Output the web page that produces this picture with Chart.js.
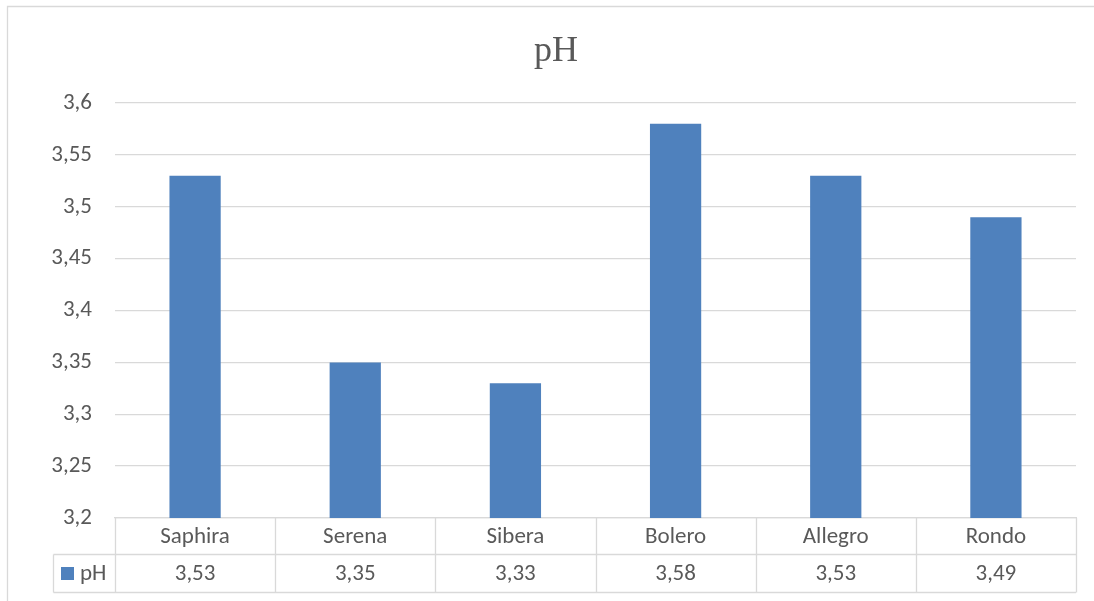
<!DOCTYPE html>
<html>
<head>
<meta charset="utf-8">
<script src="https://cdn.jsdelivr.net/npm/chart.js@4.4.1/dist/chart.umd.min.js"></script>
<style>
  html, body { margin: 0; padding: 0; background: #fff; }
  #wrap { width: 1094px; height: 601px; position: relative; }
</style>
</head>
<body>
<div id="wrap"><canvas id="c"></canvas></div>
<script>
const categories = ['Saphira', 'Serena', 'Sibera', 'Bolero', 'Allegro', 'Rondo'];
const seriesName = 'pH';
const chartTitle = 'pH';
const phValues = [3.53, 3.35, 3.33, 3.58, 3.53, 3.49];
const yMin = 3.2, yMax = 3.6, yStep = 0.05;

const TEXT = '#595959';
const LINE = '#d9d9d9';
const BAR = '#4F81BD';
const FONT = 'Carlito, Lato, "Liberation Sans", sans-serif';
const FS = 23;

function fmt(v) {
  return parseFloat(Number(v).toFixed(2)).toString().replace('.', ',');
}

const tablePlugin = {
  id: 'dataTable',
  afterDraw(chart) {
    const ctx = chart.ctx;
    const x = chart.scales.x;
    const area = chart.chartArea;
    const n = categories.length;
    const colW = (area.right - area.left) / n;
    const headTop = area.bottom;
    const rowTop = 554.5;
    const rowBottom = 592.5;
    const legendLeft = 53.5;
    ctx.save();
    // title
    ctx.fillStyle = TEXT;
    ctx.font = '36px "Liberation Serif", "Times New Roman", serif';
    ctx.textAlign = 'center';
    ctx.textBaseline = 'alphabetic';
    ctx.fillText(chartTitle, 556, 61);
    // outer chart border (left and top)
    ctx.strokeStyle = LINE;
    ctx.lineWidth = 1.3;
    ctx.beginPath();
    ctx.moveTo(7.5, 601);
    ctx.lineTo(7.5, 6.5);
    ctx.lineTo(1094, 6.5);
    ctx.stroke();
    // table lines
    ctx.beginPath();
    for (let i = 0; i <= n; i++) {
      const px = Math.round(x.getPixelForValue(i) - colW / 2) + 0.5;
      ctx.moveTo(px, headTop);
      ctx.lineTo(px, rowBottom);
    }
    ctx.moveTo(legendLeft, rowTop);
    ctx.lineTo(area.right, rowTop);
    ctx.moveTo(legendLeft, rowBottom);
    ctx.lineTo(area.right, rowBottom);
    ctx.moveTo(legendLeft, rowTop);
    ctx.lineTo(legendLeft, rowBottom);
    ctx.stroke();
    // legend key
    ctx.fillStyle = BAR;
    ctx.fillRect(61, 567, 13, 13);
    ctx.fillStyle = TEXT;
    ctx.font = FS + 'px ' + FONT;
    ctx.textBaseline = 'middle';
    ctx.textAlign = 'left';
    ctx.fillText(seriesName, 80, 574);
    // values
    ctx.textAlign = 'center';
    for (let i = 0; i < n; i++) {
      ctx.fillText(fmt(phValues[i]), x.getPixelForValue(i), 574);
    }
    ctx.restore();
  }
};

new Chart(document.getElementById('c'), {
  type: 'bar',
  data: {
    labels: categories,
    datasets: [{
      label: seriesName,
      data: phValues,
      backgroundColor: BAR,
      borderWidth: 0,
      categoryPercentage: 1.0,
      barPercentage: 0.32
    }]
  },
  options: {
    responsive: true,
    maintainAspectRatio: false,
    animation: false,
    devicePixelRatio: 1,
    layout: { padding: { left: 0, right: 18, top: 103, bottom: 0 } },
    plugins: {
      legend: { display: false },
      tooltip: { enabled: false },
      title: { display: false }
    },
    scales: {
      x: {
        grid: { display: false, drawTicks: false },
        border: { display: true, color: LINE, width: 1.3 },
        ticks: { color: TEXT, font: { family: FONT, size: FS }, padding: 5, maxRotation: 0 },
        afterFit(scale) { scale.height = 83; }
      },
      y: {
        min: yMin,
        max: yMax,
        grid: { color: LINE, lineWidth: 1.3, drawTicks: false },
        border: { display: false },
        ticks: {
          stepSize: yStep,
          color: TEXT,
          font: { family: FONT, size: FS },
          padding: 23,
          callback: (v) => fmt(v)
        },
        afterFit(scale) { scale.width = 115; }
      }
    }
  },
  plugins: [tablePlugin]
});
</script>
</body>
</html>
